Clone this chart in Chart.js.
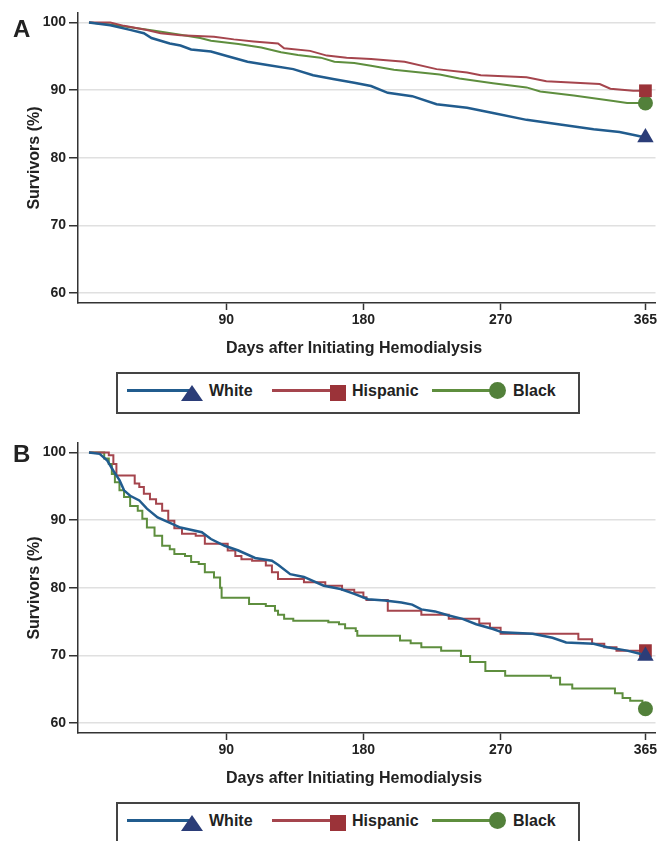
<!DOCTYPE html>
<html>
<head>
<meta charset="utf-8">
<script src="https://cdn.jsdelivr.net/npm/chart.js@4.4.1/dist/chart.umd.min.js"></script>
<style>
  html, body { margin: 0; padding: 0; background: #fff; overflow: hidden; }
  body { width: 665px; height: 841px; position: relative; font-family: "Liberation Sans", Arial, sans-serif; color: #222; }
  .panel { position: absolute; left: 0; width: 665px; height: 365px; }
  .panel canvas { position: absolute; left: 0; top: 0; }
  .letter { position: absolute; left: 13px; font-weight: bold; font-size: 24px; line-height: 24px; }
  .xtitle { position: absolute; left: 226px; font-weight: bold; font-size: 16px; line-height: 20px; white-space: nowrap; }
  .legend { position: absolute; left: 116px; width: 460px; height: 38px; border: 2px solid #444; }
  .legend .ln { position: absolute; top: 15px; height: 3px; }
  .legend .lbl { position: absolute; top: 7px; font-weight: bold; font-size: 16px; line-height: 20px; }
  .tri { position: absolute; width: 0; height: 0; border-left: 11px solid transparent; border-right: 11px solid transparent; }
  .sq { position: absolute; width: 16px; height: 16px; }
  .dot { position: absolute; width: 17px; height: 17px; border-radius: 50%; }
</style>
</head>
<body>

<div class="panel" style="top:0"><canvas id="chartA" width="665" height="365"></canvas></div>
<div class="letter" style="top:17px">A</div>
<div class="xtitle" style="top:338px">Days after Initiating Hemodialysis</div>
<div class="legend" id="legendA" style="top:372px"></div>

<div class="panel" style="top:430px"><canvas id="chartB" width="665" height="365"></canvas></div>
<div class="letter" style="top:442px">B</div>
<div class="xtitle" style="top:768px">Days after Initiating Hemodialysis</div>
<div class="legend" id="legendB" style="top:802px"></div>

<script>
// axis ticks
const dayTicks = [90, 180, 270, 365];
const pctTicks = [60, 70, 80, 90, 100];
const groups = ['White', 'Hispanic', 'Black'];

// panel A: survival (%)
const whiteA_days = [0, 14, 27, 36, 41, 53, 60, 67, 80, 91, 104, 117, 134, 147, 161, 174, 185, 196, 212, 228, 248, 265, 287, 309, 331, 348, 359, 365];
const whiteA_pct  = [100, 99.6, 98.9, 98.4, 97.7, 96.9, 96.6, 96.0, 95.7, 95.0, 94.2, 93.7, 93.1, 92.2, 91.6, 91.1, 90.6, 89.6, 89.1, 87.9, 87.4, 86.6, 85.6, 84.9, 84.2, 83.8, 83.3, 83.0];
const hispA_days  = [0, 14, 23, 38, 47, 60, 82, 95, 108, 124, 128, 145, 156, 169, 185, 207, 228, 248, 257, 287, 300, 335, 342, 357, 365];
const hispA_pct   = [100, 100, 99.5, 98.9, 98.4, 98.1, 97.9, 97.5, 97.2, 96.9, 96.2, 95.8, 95.1, 94.8, 94.6, 94.2, 93.1, 92.6, 92.2, 91.9, 91.3, 90.9, 90.2, 89.9, 89.9];
const blackA_days = [0, 14, 27, 42, 60, 73, 80, 98, 113, 126, 137, 152, 161, 174, 185, 200, 230, 243, 265, 287, 296, 318, 344, 353, 365];
const blackA_pct  = [100, 99.7, 99.3, 98.8, 98.2, 97.7, 97.3, 96.8, 96.3, 95.6, 95.2, 94.8, 94.2, 94.0, 93.6, 93.0, 92.3, 91.7, 91.0, 90.4, 89.8, 89.2, 88.4, 88.1, 88.1];

// panel B
const whiteB_days = [0, 7, 12, 16, 20, 23, 27, 33, 38, 45, 52, 60, 74, 80, 89, 98, 109, 120, 124, 132, 141, 154, 165, 174, 183, 194, 205, 212, 218, 227, 236, 245, 254, 265, 271, 291, 304, 313, 331, 340, 353, 362, 365];
const whiteB_pct  = [100, 99.8, 98.8, 97.3, 95.9, 94.4, 93.6, 92.9, 91.7, 90.4, 89.7, 88.9, 88.2, 87.2, 86.2, 85.5, 84.4, 84.0, 83.4, 82.0, 81.6, 80.3, 79.8, 79.1, 78.3, 78.1, 77.8, 77.5, 76.8, 76.5, 75.9, 75.4, 74.6, 73.9, 73.4, 73.2, 72.6, 71.9, 71.7, 71.2, 70.7, 70.2, 69.9];
const hispB_days  = [0, 13, 16, 18, 30, 33, 36, 40, 44, 48, 52, 56, 61, 70, 76, 91, 96, 100, 107, 116, 120, 124, 141, 155, 166, 174, 180, 182, 196, 218, 236, 256, 263, 270, 321, 330, 338, 346, 365];
const hispB_pct   = [100, 99.6, 98.3, 96.6, 95.4, 94.9, 93.9, 93.1, 92.4, 91.4, 89.9, 88.8, 88.0, 87.7, 86.5, 85.5, 84.7, 84.2, 84.0, 83.3, 82.3, 81.3, 80.8, 80.3, 79.7, 79.3, 78.6, 78.2, 76.6, 76.0, 75.4, 74.7, 74.1, 73.2, 72.4, 71.7, 71.2, 70.7, 70.7];
const blackB_days = [0, 10, 13, 15, 17, 20, 23, 27, 32, 35, 38, 43, 48, 53, 56, 63, 67, 72, 76, 82, 86, 87, 105, 116, 122, 124, 128, 134, 157, 164, 168, 175, 176, 204, 211, 218, 231, 244, 250, 260, 273, 303, 309, 317, 345, 350, 355, 363, 365];
const blackB_pct  = [100, 99.1, 98.3, 96.8, 95.6, 94.4, 93.4, 92.1, 91.4, 90.2, 88.9, 87.7, 86.2, 85.7, 85.0, 84.7, 83.8, 83.5, 82.3, 81.5, 80.0, 78.5, 77.6, 77.3, 76.6, 76.0, 75.4, 75.1, 74.9, 74.6, 74.0, 73.6, 72.9, 72.2, 71.8, 71.2, 70.7, 69.9, 69.0, 67.7, 67.0, 66.7, 65.7, 65.1, 64.4, 63.7, 63.3, 62.2, 62.1];

const lineColors = { White: '#215c8e', Hispanic: '#a5454d', Black: '#5e8e3e' };
const lineWidths = { White: 2.5, Hispanic: 2, Black: 2 };
const markColors = { White: '#2b3d78', Hispanic: '#9b3339', Black: '#52803a' };
const markStyles = { White: 'triangle', Hispanic: 'rect', Black: 'circle' };
const markSizes  = { White: 9.5, Hispanic: 9, Black: 7.5 };
const FONT = '"Liberation Sans", Arial, sans-serif';

function pts(days, pct) {
  return days.map((d, i) => ({ x: d, y: pct[i] }));
}

function series(name, days, pct, stepped) {
  const last = days.length - 1;
  return {
    label: name,
    data: pts(days, pct),
    borderColor: lineColors[name],
    borderWidth: lineWidths[name],
    stepped: stepped,
    tension: 0,
    fill: false,
    clip: false,
    pointStyle: markStyles[name],
    pointRadius: ctx => ctx.dataIndex === last ? markSizes[name] : 0,
    pointBackgroundColor: markColors[name],
    pointBorderColor: markColors[name],
    pointBorderWidth: 0,
    pointHoverRadius: 0
  };
}

function makeChart(id, datasets) {
  return new Chart(document.getElementById(id), {
    type: 'line',
    data: { datasets },
    options: {
      responsive: false,
      animation: false,
      layout: { padding: { top: 13, right: 9, left: 0, bottom: 0 } },
      plugins: { legend: { display: false }, tooltip: { enabled: false } },
      scales: {
        x: {
          type: 'linear', min: -7.2, max: 371.6,
          afterBuildTicks: s => { s.ticks = dayTicks.map(v => ({ value: v })); },
          afterFit: s => { s.height = 62; },
          grid: { drawOnChartArea: false, tickLength: 7, tickColor: '#333', tickWidth: 1.5 },
          border: { color: '#333', width: 1.5 },
          ticks: { color: '#222', padding: 2, maxRotation: 0, autoSkip: false, font: { family: FONT, size: 14, weight: 'bold' } }
        },
        y: {
          min: 58.52, max: 101.4,
          afterBuildTicks: s => { s.ticks = pctTicks.map(v => ({ value: v })); },
          afterFit: s => { s.width = 78; },
          grid: { color: '#e0e0e0', lineWidth: 1.5, tickLength: 9, tickColor: '#333', tickWidth: 1.5 },
          border: { color: '#333', width: 1.5 },
          ticks: { color: '#222', padding: 3, autoSkip: false, font: { family: FONT, size: 14, weight: 'bold' } },
          title: { display: true, text: 'Survivors (%)', color: '#222', padding: { top: 25, bottom: 0 }, font: { family: FONT, size: 16, weight: 'bold' } }
        }
      }
    }
  });
}

makeChart('chartA', [
  series('White', whiteA_days, whiteA_pct, false),
  series('Hispanic', hispA_days, hispA_pct, false),
  series('Black', blackA_days, blackA_pct, false)
]);

makeChart('chartB', [
  series('White', whiteB_days, whiteB_pct, false),
  series('Hispanic', hispB_days, hispB_pct, true),
  series('Black', blackB_days, blackB_pct, true)
]);

// legend boxes: line with marker at its end, then the label
function buildLegend(el) {
  const spots = {
    White:    { line: [9, 66],   mark: 'tri', mx: 63,  label: 91 },
    Hispanic: { line: [154, 60], mark: 'sq',  mx: 212, label: 234 },
    Black:    { line: [314, 60], mark: 'dot', mx: 371, label: 395 }
  };
  el.innerHTML = groups.map(g => {
    const s = spots[g];
    let m;
    if (s.mark === 'tri') m = `<div class="tri" style="left:${s.mx}px;top:11px;border-bottom:16px solid ${markColors[g]}"></div>`;
    else if (s.mark === 'sq') m = `<div class="sq" style="left:${s.mx}px;top:11px;background:${markColors[g]}"></div>`;
    else m = `<div class="dot" style="left:${s.mx}px;top:8px;background:${markColors[g]}"></div>`;
    return `<div class="ln" style="left:${s.line[0]}px;width:${s.line[1]}px;background:${lineColors[g]}"></div>${m}` +
           `<div class="lbl" style="left:${s.label}px">${g}</div>`;
  }).join('');
}
buildLegend(document.getElementById('legendA'));
buildLegend(document.getElementById('legendB'));
</script>
</body>
</html>
